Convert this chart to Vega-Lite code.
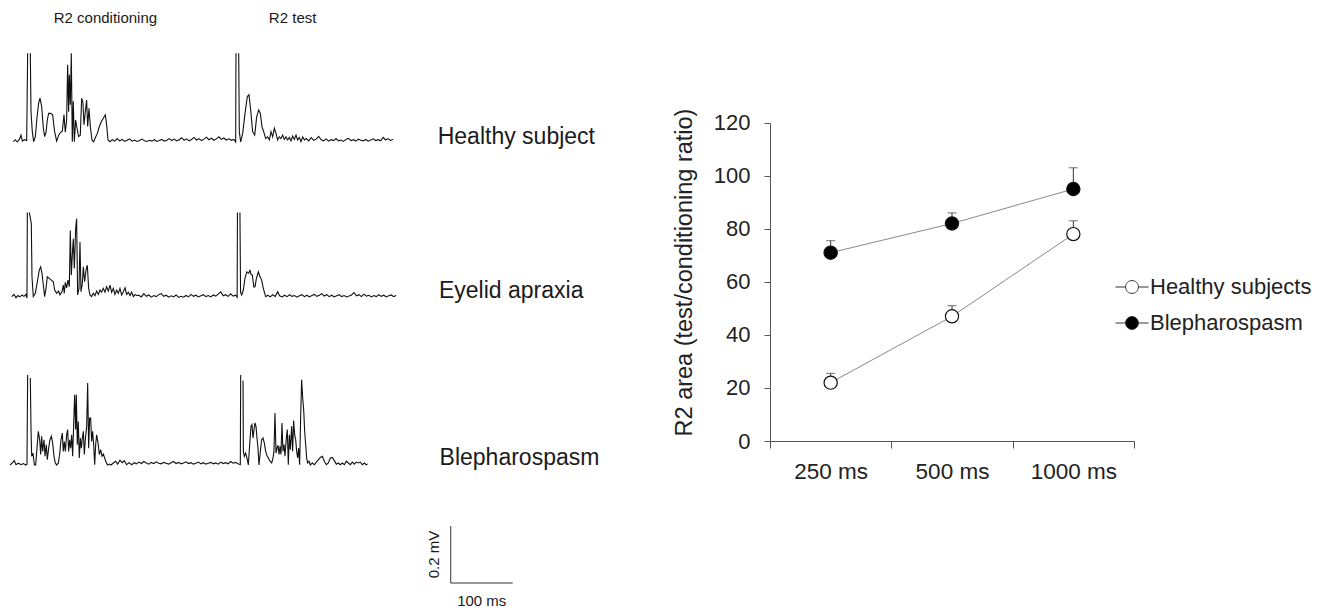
{
"$schema":"https://vega.github.io/schema/vega-lite/v6.json",
"width":1329,"height":612,"padding":0,"autosize":{"type":"none"},
"config":{"font":"Liberation Sans","view":{"stroke":null},"axis":{"grid":false},"text":{"color":"#1a1a1a"}},
"datasets":{
"emg":[
{"s":"H","t":21.5,"v":0.001},{"s":"H","t":24.7,"v":0.008},{"s":"H","t":27.9,"v":0},{"s":"H","t":31.2,"v":0.009},{"s":"H","t":33.8,"v":0.024},{"s":"H","t":36,"v":0.003},{"s":"H","t":39.2,"v":0.008},{"s":"H","t":43,"v":0.005},{"s":"H","t":44.6,"v":0.31},{"s":"H","t":46.7,"v":null},{"s":"H","t":48.9,"v":0.31},{"s":"H","t":50,"v":0.106},{"s":"H","t":52.1,"v":0.036},{"s":"H","t":54.3,"v":0.001},{"s":"H","t":57,"v":0.019},{"s":"H","t":59.6,"v":0.083},{"s":"H","t":62.3,"v":0.136},{"s":"H","t":64.5,"v":0.153},{"s":"H","t":67.2,"v":0.124},{"s":"H","t":69.9,"v":0.048},{"s":"H","t":72,"v":0.019},{"s":"H","t":74.2,"v":0.034},{"s":"H","t":76.3,"v":0.077},{"s":"H","t":78.5,"v":0.1},{"s":"H","t":81.7,"v":0.1},{"s":"H","t":84.9,"v":0.095},{"s":"H","t":88.1,"v":0.036},{"s":"H","t":91.4,"v":0.003},{"s":"H","t":94.6,"v":0.024},{"s":"H","t":97.8,"v":0.034},{"s":"H","t":100.5,"v":0.038},{"s":"H","t":103.2,"v":0.095},{"s":"H","t":105.3,"v":0.034},{"s":"H","t":107.5,"v":0.077},{"s":"H","t":109.1,"v":0.27},{"s":"H","t":110.7,"v":0.106},{"s":"H","t":111.8,"v":0.235},{"s":"H","t":113.4,"v":0.13},{"s":"H","t":115,"v":0.31},{"s":"H","t":116.6,"v":0.001},{"s":"H","t":118.2,"v":0.142},{"s":"H","t":119.9,"v":0.001},{"s":"H","t":122,"v":0.077},{"s":"H","t":124.2,"v":0.048},{"s":"H","t":126.8,"v":0.019},{"s":"H","t":129.5,"v":0.024},{"s":"H","t":131.7,"v":0.153},{"s":"H","t":133.8,"v":0.136},{"s":"H","t":135.4,"v":0.06},{"s":"H","t":137.6,"v":0.106},{"s":"H","t":139.7,"v":0.147},{"s":"H","t":141.4,"v":0.054},{"s":"H","t":143.5,"v":0.118},{"s":"H","t":145.7,"v":0.054},{"s":"H","t":148.3,"v":0.007},{"s":"H","t":151,"v":0.001},{"s":"H","t":153.7,"v":0.015},{"s":"H","t":157,"v":0.03},{"s":"H","t":160.2,"v":0.054},{"s":"H","t":163.4,"v":0.071},{"s":"H","t":166.6,"v":0.083},{"s":"H","t":169.9,"v":0.095},{"s":"H","t":172,"v":0.06},{"s":"H","t":174.2,"v":0.007},{"s":"H","t":177.4,"v":0.001},
{"s":"H","t":181,"v":0.008},{"s":"H","t":185,"v":0.003},{"s":"H","t":189,"v":0.012},{"s":"H","t":193,"v":0.004},{"s":"H","t":197,"v":0.009},{"s":"H","t":201,"v":0.002},{"s":"H","t":205,"v":0.006},{"s":"H","t":209,"v":0.011},{"s":"H","t":213,"v":0.003},{"s":"H","t":217,"v":0.007},{"s":"H","t":221,"v":0.002},{"s":"H","t":225,"v":0.005},{"s":"H","t":229,"v":0.01},{"s":"H","t":233,"v":0.004},{"s":"H","t":237,"v":0.002},{"s":"H","t":241,"v":0.006},{"s":"H","t":245,"v":0.003},{"s":"H","t":249,"v":0.008},{"s":"H","t":253,"v":0.002},{"s":"H","t":257,"v":0.005},{"s":"H","t":261,"v":0.009},{"s":"H","t":265,"v":0.003},{"s":"H","t":269,"v":0.006},{"s":"H","t":273,"v":0.012},{"s":"H","t":277,"v":0.005},{"s":"H","t":281,"v":0.01},{"s":"H","t":285,"v":0.004},{"s":"H","t":289,"v":0.008},{"s":"H","t":293,"v":0.015},{"s":"H","t":297,"v":0.006},{"s":"H","t":301,"v":0.011},{"s":"H","t":305,"v":0.004},{"s":"H","t":309,"v":0.009},{"s":"H","t":313,"v":0.016},{"s":"H","t":317,"v":0.007},{"s":"H","t":321,"v":0.012},{"s":"H","t":325,"v":0.005},{"s":"H","t":329,"v":0.01},{"s":"H","t":333,"v":0.017},{"s":"H","t":337,"v":0.008},{"s":"H","t":341,"v":0.013},{"s":"H","t":345,"v":0.006},{"s":"H","t":349,"v":0.011},{"s":"H","t":353,"v":0.018},{"s":"H","t":357,"v":0.009},{"s":"H","t":361,"v":0.014},{"s":"H","t":365,"v":0.007},{"s":"H","t":369,"v":0.011},{"s":"H","t":373,"v":0.006},{"s":"H","t":377,"v":0.009},
{"s":"H","t":380.1,"v":0},{"s":"H","t":380.6,"v":0.31},{"s":"H","t":382.8,"v":null},{"s":"H","t":385,"v":0.31},{"s":"H","t":386,"v":0.036},{"s":"H","t":388.2,"v":0},{"s":"H","t":391.4,"v":0.03},{"s":"H","t":395.2,"v":0.1},{"s":"H","t":398.9,"v":0.159},{"s":"H","t":401.6,"v":0.165},{"s":"H","t":404.3,"v":0.112},{"s":"H","t":407.5,"v":0.036},{"s":"H","t":410.8,"v":0.024},{"s":"H","t":414,"v":0.088},{"s":"H","t":417.2,"v":0.112},{"s":"H","t":419.9,"v":0.1},{"s":"H","t":422.6,"v":0.053},{"s":"H","t":425.3,"v":0.036},{"s":"H","t":428.5,"v":0.012},{"s":"H","t":431.7,"v":0.018},{"s":"H","t":434.4,"v":0.007},{"s":"H","t":437.1,"v":0.036},{"s":"H","t":439.8,"v":0.018},{"s":"H","t":442.5,"v":0.048},{"s":"H","t":445.2,"v":0.03},{"s":"H","t":447.8,"v":0.007},{"s":"H","t":450.5,"v":0.018},{"s":"H","t":453.2,"v":0.012},{"s":"H","t":455.9,"v":0.024},{"s":"H","t":458.6,"v":0.009},{"s":"H","t":461.3,"v":0.018},{"s":"H","t":464,"v":0.007},{"s":"H","t":466.7,"v":0.016},{"s":"H","t":469.4,"v":0.004},{"s":"H","t":472,"v":0.021},{"s":"H","t":474.7,"v":0.009},{"s":"H","t":477.4,"v":0.024},{"s":"H","t":480.1,"v":0.007},{"s":"H","t":482.8,"v":0.016},{"s":"H","t":485.5,"v":0.001},{"s":"H","t":488.2,"v":0.018},{"s":"H","t":490.9,"v":0.007},
{"s":"H","t":494,"v":0.012},{"s":"H","t":498,"v":0.004},{"s":"H","t":502,"v":0.015},{"s":"H","t":506,"v":0.006},{"s":"H","t":510,"v":0.01},{"s":"H","t":514,"v":0.02},{"s":"H","t":518,"v":0.008},{"s":"H","t":522,"v":0.004},{"s":"H","t":526,"v":0.011},{"s":"H","t":530,"v":0.003},{"s":"H","t":534,"v":0.008},{"s":"H","t":538,"v":0.005},{"s":"H","t":542,"v":0.012},{"s":"H","t":546,"v":0.004},{"s":"H","t":550,"v":0.007},{"s":"H","t":554,"v":0.002},{"s":"H","t":558,"v":0.009},{"s":"H","t":562,"v":0.013},{"s":"H","t":566,"v":0.005},{"s":"H","t":570,"v":0.008},{"s":"H","t":574,"v":0.003},{"s":"H","t":578,"v":0.01},{"s":"H","t":582,"v":0.006},{"s":"H","t":586,"v":0.004},{"s":"H","t":590,"v":0.009},{"s":"H","t":594,"v":0.003},{"s":"H","t":598,"v":0.007},{"s":"H","t":602,"v":0.011},{"s":"H","t":606,"v":0.005},{"s":"H","t":610,"v":0.008},{"s":"H","t":614,"v":0.004},{"s":"H","t":618,"v":0.016},{"s":"H","t":622,"v":0.007},{"s":"H","t":626,"v":0.012},{"s":"H","t":630,"v":0.005},{"s":"H","t":634,"v":0.01},

{"s":"E","t":18.8,"v":0.005},{"s":"E","t":22.6,"v":0.013},{"s":"E","t":25.8,"v":0.001},{"s":"E","t":29,"v":0.009},{"s":"E","t":32.2,"v":0.004},{"s":"E","t":35.5,"v":0.011},{"s":"E","t":38.7,"v":0.006},{"s":"E","t":41.9,"v":0.013},{"s":"E","t":43.5,"v":0},{"s":"E","t":44.1,"v":0.31},{"s":"E","t":45.5,"v":null},{"s":"E","t":47.3,"v":0.31},{"s":"E","t":50.5,"v":0.27},{"s":"E","t":51.6,"v":0.077},{"s":"E","t":53.7,"v":0.005},{"s":"E","t":57,"v":0.017},{"s":"E","t":60.2,"v":0.059},{"s":"E","t":63.4,"v":0.101},{"s":"E","t":65.6,"v":0.113},{"s":"E","t":67.7,"v":0.089},{"s":"E","t":69.9,"v":0.047},{"s":"E","t":72,"v":0.005},{"s":"E","t":74.2,"v":0.035},{"s":"E","t":76.3,"v":0.077},{"s":"E","t":79.5,"v":0.071},{"s":"E","t":82.8,"v":0.065},{"s":"E","t":86,"v":0.059},{"s":"E","t":88.1,"v":0.029},{"s":"E","t":91.4,"v":0.017},{"s":"E","t":94.6,"v":0.025},{"s":"E","t":96.7,"v":0.011},{"s":"E","t":100,"v":0.023},{"s":"E","t":102.1,"v":0.047},{"s":"E","t":103.7,"v":0.017},{"s":"E","t":105.3,"v":0.057},{"s":"E","t":107.5,"v":0.037},{"s":"E","t":109.6,"v":0.065},{"s":"E","t":111.8,"v":0.041},{"s":"E","t":113.4,"v":0.245},{"s":"E","t":115,"v":0.083},{"s":"E","t":116.6,"v":0.155},{"s":"E","t":118.2,"v":0.215},{"s":"E","t":119.9,"v":0.107},{"s":"E","t":122,"v":0.251},{"s":"E","t":123.6,"v":0.287},{"s":"E","t":125.2,"v":0.011},{"s":"E","t":127.4,"v":0.035},{"s":"E","t":129,"v":0.203},{"s":"E","t":130.6,"v":0.023},{"s":"E","t":132.8,"v":0.053},{"s":"E","t":134.4,"v":0.113},{"s":"E","t":136.5,"v":0.059},{"s":"E","t":138.7,"v":0.101},{"s":"E","t":140.8,"v":0.119},{"s":"E","t":143,"v":0.035},{"s":"E","t":145.1,"v":0.011},{"s":"E","t":147.8,"v":0.005},{"s":"E","t":150.5,"v":0.017},{"s":"E","t":153.2,"v":0.009},{"s":"E","t":155.9,"v":0.025},{"s":"E","t":158.6,"v":0.013},{"s":"E","t":161.3,"v":0.029},{"s":"E","t":163.9,"v":0.021},{"s":"E","t":166.6,"v":0.035},{"s":"E","t":169.3,"v":0.021},{"s":"E","t":172,"v":0.041},{"s":"E","t":174.7,"v":0.025},{"s":"E","t":177.4,"v":0.047},{"s":"E","t":180.1,"v":0.021},{"s":"E","t":182.8,"v":0.035},{"s":"E","t":185.4,"v":0.013},{"s":"E","t":188.1,"v":0.029},{"s":"E","t":190.8,"v":0.017},{"s":"E","t":193.5,"v":0.035},{"s":"E","t":196.2,"v":0.011},{"s":"E","t":198.9,"v":0.023},{"s":"E","t":201.6,"v":0.037},{"s":"E","t":204.3,"v":0.013},{"s":"E","t":207,"v":0.021},{"s":"E","t":209.6,"v":0.009},{"s":"E","t":212.3,"v":0.021},{"s":"E","t":215,"v":0.005},{"s":"E","t":217.7,"v":0.013},{"s":"E","t":220.4,"v":0.009},
{"s":"E","t":224,"v":0.01},{"s":"E","t":228,"v":0.004},{"s":"E","t":232,"v":0.016},{"s":"E","t":236,"v":0.006},{"s":"E","t":240,"v":0.011},{"s":"E","t":244,"v":0.003},{"s":"E","t":248,"v":0.009},{"s":"E","t":252,"v":0.005},{"s":"E","t":256,"v":0.012},{"s":"E","t":260,"v":0.016},{"s":"E","t":264,"v":0.006},{"s":"E","t":268,"v":0.01},{"s":"E","t":272,"v":0.003},{"s":"E","t":276,"v":0.008},{"s":"E","t":280,"v":0.004},{"s":"E","t":284,"v":0.011},{"s":"E","t":288,"v":0.002},{"s":"E","t":292,"v":0.006},{"s":"E","t":296,"v":0.003},{"s":"E","t":300,"v":0.009},{"s":"E","t":304,"v":0.004},{"s":"E","t":308,"v":0.013},{"s":"E","t":312,"v":0.006},{"s":"E","t":316,"v":0.01},{"s":"E","t":320,"v":0.004},{"s":"E","t":324,"v":0.008},{"s":"E","t":328,"v":0.012},{"s":"E","t":332,"v":0.005},{"s":"E","t":336,"v":0.009},{"s":"E","t":340,"v":0.004},{"s":"E","t":344,"v":0.011},{"s":"E","t":348,"v":0.007},{"s":"E","t":352,"v":0.014},{"s":"E","t":356,"v":0.022},{"s":"E","t":360,"v":0.008},{"s":"E","t":364,"v":0.012},{"s":"E","t":368,"v":0.006},{"s":"E","t":372,"v":0.015},{"s":"E","t":376,"v":0.007},{"s":"E","t":380,"v":0.01},
{"s":"E","t":382.5,"v":0.003},{"s":"E","t":383,"v":0.31},{"s":"E","t":385,"v":null},{"s":"E","t":387,"v":0.31},{"s":"E","t":388,"v":0.02},{"s":"E","t":389.8,"v":0.011},{"s":"E","t":392.5,"v":0.029},{"s":"E","t":395,"v":0.07},{"s":"E","t":398,"v":0.095},{"s":"E","t":401,"v":0.09},{"s":"E","t":403.2,"v":0.1},{"s":"E","t":405,"v":0.085},{"s":"E","t":407,"v":0.083},{"s":"E","t":409.5,"v":0.04},{"s":"E","t":411.3,"v":0.041},{"s":"E","t":413.5,"v":0.07},{"s":"E","t":416.7,"v":0.095},{"s":"E","t":419,"v":0.08},{"s":"E","t":422,"v":0.065},{"s":"E","t":424.7,"v":0.035},{"s":"E","t":428.5,"v":0.005},{"s":"E","t":432,"v":0.01},{"s":"E","t":436,"v":0.004},{"s":"E","t":440,"v":0.012},{"s":"E","t":444,"v":0.006},{"s":"E","t":447.8,"v":0.023},{"s":"E","t":451,"v":0.008},{"s":"E","t":455,"v":0.004},{"s":"E","t":459,"v":0.01},
{"s":"E","t":463,"v":0.005},{"s":"E","t":467,"v":0.012},{"s":"E","t":471,"v":0.006},{"s":"E","t":475,"v":0.009},{"s":"E","t":479,"v":0.003},{"s":"E","t":483,"v":0.008},{"s":"E","t":487,"v":0.012},{"s":"E","t":491,"v":0.005},{"s":"E","t":495,"v":0.01},{"s":"E","t":499,"v":0.004},{"s":"E","t":503,"v":0.009},{"s":"E","t":507,"v":0.013},{"s":"E","t":511,"v":0.006},{"s":"E","t":515,"v":0.01},{"s":"E","t":519,"v":0.016},{"s":"E","t":523,"v":0.007},{"s":"E","t":527,"v":0.012},{"s":"E","t":531,"v":0.005},{"s":"E","t":535,"v":0.01},{"s":"E","t":539,"v":0.004},{"s":"E","t":543,"v":0.008},{"s":"E","t":547,"v":0.012},{"s":"E","t":551,"v":0.005},{"s":"E","t":555,"v":0.009},{"s":"E","t":559,"v":0.004},{"s":"E","t":563,"v":0.007},{"s":"E","t":567,"v":0.011},{"s":"E","t":571,"v":0.02},{"s":"E","t":575,"v":0.008},{"s":"E","t":579,"v":0.012},{"s":"E","t":583,"v":0.005},{"s":"E","t":587,"v":0.014},{"s":"E","t":591,"v":0.007},{"s":"E","t":595,"v":0.01},{"s":"E","t":599,"v":0.004},{"s":"E","t":603,"v":0.009},{"s":"E","t":607,"v":0.005},{"s":"E","t":611,"v":0.012},{"s":"E","t":615,"v":0.006},{"s":"E","t":619,"v":0.01},{"s":"E","t":623,"v":0.004},{"s":"E","t":627,"v":0.008},{"s":"E","t":631,"v":0.011},{"s":"E","t":635,"v":0.005},{"s":"E","t":639,"v":0.009},

{"s":"B","t":16.1,"v":0},{"s":"B","t":19.9,"v":0.007},{"s":"B","t":23.1,"v":0.015},{"s":"B","t":25.8,"v":0.001},{"s":"B","t":29.6,"v":0.006},{"s":"B","t":33.9,"v":0.001},{"s":"B","t":37.6,"v":0.005},{"s":"B","t":41.4,"v":0},{"s":"B","t":43.5,"v":0.003},{"s":"B","t":44.6,"v":0.31},{"s":"B","t":46.5,"v":null},{"s":"B","t":48.9,"v":0.3},{"s":"B","t":50,"v":0.127},{"s":"B","t":51.1,"v":0.03},{"s":"B","t":53.2,"v":0.041},{"s":"B","t":55.4,"v":0.001},{"s":"B","t":57.5,"v":0},{"s":"B","t":59.7,"v":0.058},{"s":"B","t":61.8,"v":0.116},{"s":"B","t":64,"v":0.087},{"s":"B","t":65.6,"v":0.036},{"s":"B","t":67.2,"v":0.099},{"s":"B","t":68.8,"v":0.047},{"s":"B","t":71,"v":0.087},{"s":"B","t":72.6,"v":0.03},{"s":"B","t":74.7,"v":0.07},{"s":"B","t":76.3,"v":0.018},{"s":"B","t":78.5,"v":0.058},{"s":"B","t":80.6,"v":0.087},{"s":"B","t":82.8,"v":0.099},{"s":"B","t":84.9,"v":0.076},{"s":"B","t":87.1,"v":0.03},{"s":"B","t":89.2,"v":0.007},{"s":"B","t":91.4,"v":0},{"s":"B","t":94.1,"v":0.007},{"s":"B","t":96.2,"v":0.036},{"s":"B","t":98.4,"v":0.087},{"s":"B","t":100.5,"v":0.11},{"s":"B","t":102.1,"v":0.047},{"s":"B","t":103.8,"v":0.081},{"s":"B","t":105.4,"v":0.047},{"s":"B","t":107.5,"v":0.104},{"s":"B","t":109.1,"v":0.122},{"s":"B","t":110.7,"v":0.047},{"s":"B","t":112.4,"v":0.087},{"s":"B","t":114,"v":0.058},{"s":"B","t":115.6,"v":0.104},{"s":"B","t":117.2,"v":0.03},{"s":"B","t":118.8,"v":0.139},{"s":"B","t":120.4,"v":0.242},{"s":"B","t":122,"v":0.122},{"s":"B","t":123.1,"v":0.242},{"s":"B","t":124.7,"v":0.07},{"s":"B","t":126.3,"v":0.15},{"s":"B","t":127.9,"v":0.024},{"s":"B","t":129.6,"v":0.093},{"s":"B","t":131.2,"v":0.058},{"s":"B","t":132.8,"v":0.093},{"s":"B","t":134.4,"v":0.116},{"s":"B","t":136,"v":0.036},{"s":"B","t":137.6,"v":0.087},{"s":"B","t":139.8,"v":0.133},{"s":"B","t":141.4,"v":0.282},{"s":"B","t":143,"v":0.058},{"s":"B","t":144.6,"v":0.162},{"s":"B","t":146.2,"v":0.162},{"s":"B","t":147.8,"v":0.081},{"s":"B","t":149.4,"v":0.116},{"s":"B","t":151.1,"v":0.07},{"s":"B","t":152.7,"v":0.001},{"s":"B","t":154.3,"v":0.07},{"s":"B","t":155.9,"v":0.104},{"s":"B","t":158.1,"v":0.076},{"s":"B","t":160.2,"v":0.036},{"s":"B","t":162.4,"v":0.053},{"s":"B","t":164.5,"v":0.03},{"s":"B","t":166.7,"v":0.038},{"s":"B","t":168.8,"v":0.024},{"s":"B","t":171,"v":0.01},{"s":"B","t":173.6,"v":0},{"s":"B","t":176.3,"v":0.003},{"s":"B","t":179,"v":0},{"s":"B","t":182.8,"v":0.007},{"s":"B","t":186.5,"v":0.013},{"s":"B","t":189.8,"v":0.003},{"s":"B","t":193.5,"v":0.017},{"s":"B","t":197.3,"v":0.008},{"s":"B","t":200.5,"v":0.015},{"s":"B","t":204.3,"v":0.001},{"s":"B","t":208.1,"v":0.008},{"s":"B","t":212.4,"v":0.001},{"s":"B","t":216.7,"v":0.008},
{"s":"B","t":220,"v":0.004},{"s":"B","t":224,"v":0.01},{"s":"B","t":228,"v":0.005},{"s":"B","t":232,"v":0.012},{"s":"B","t":236,"v":0.007},{"s":"B","t":240,"v":0.003},{"s":"B","t":244,"v":0.009},{"s":"B","t":248,"v":0.005},{"s":"B","t":252,"v":0.011},{"s":"B","t":256,"v":0.006},{"s":"B","t":260,"v":0.004},{"s":"B","t":264,"v":0.009},{"s":"B","t":268,"v":0.006},{"s":"B","t":272,"v":0.003},{"s":"B","t":276,"v":0.008},{"s":"B","t":280,"v":0.012},{"s":"B","t":284,"v":0.005},{"s":"B","t":288,"v":0.009},{"s":"B","t":292,"v":0.004},{"s":"B","t":296,"v":0.007},{"s":"B","t":300,"v":0.011},{"s":"B","t":304,"v":0.005},{"s":"B","t":308,"v":0.008},{"s":"B","t":312,"v":0.003},{"s":"B","t":316,"v":0.006},{"s":"B","t":320,"v":0.01},{"s":"B","t":324,"v":0.004},{"s":"B","t":328,"v":0.008},{"s":"B","t":332,"v":0.003},{"s":"B","t":336,"v":0.006},{"s":"B","t":340,"v":0.009},{"s":"B","t":344,"v":0.004},{"s":"B","t":348,"v":0.007},{"s":"B","t":352,"v":0.003},{"s":"B","t":356,"v":0.01},{"s":"B","t":360,"v":0.005},{"s":"B","t":364,"v":0.008},{"s":"B","t":368,"v":0.004},{"s":"B","t":372,"v":0.012},{"s":"B","t":376,"v":0.006},{"s":"B","t":380,"v":0.009},{"s":"B","t":384,"v":0.004},
{"s":"B","t":387.6,"v":0.001},{"s":"B","t":388.2,"v":0.31},{"s":"B","t":390,"v":null},{"s":"B","t":392,"v":0.29},{"s":"B","t":392.5,"v":0.047},{"s":"B","t":394.1,"v":0.03},{"s":"B","t":396.2,"v":0.041},{"s":"B","t":398.4,"v":0.024},{"s":"B","t":400.5,"v":0},{"s":"B","t":402.7,"v":0.07},{"s":"B","t":404.8,"v":0.133},{"s":"B","t":406.4,"v":0.139},{"s":"B","t":408.1,"v":0.093},{"s":"B","t":409.7,"v":0.122},{"s":"B","t":411.3,"v":0.145},{"s":"B","t":412.9,"v":0.133},{"s":"B","t":414.5,"v":0.093},{"s":"B","t":416.1,"v":0.058},{"s":"B","t":417.7,"v":0},{"s":"B","t":419.9,"v":0.047},{"s":"B","t":422,"v":0.087},{"s":"B","t":424.2,"v":0.093},{"s":"B","t":426.3,"v":0.076},{"s":"B","t":428.5,"v":0.047},{"s":"B","t":430.6,"v":0.033},{"s":"B","t":432.8,"v":0.024},{"s":"B","t":435.5,"v":0.013},{"s":"B","t":438.2,"v":0.007},{"s":"B","t":440.3,"v":0.024},{"s":"B","t":441.9,"v":0.047},{"s":"B","t":443.5,"v":0.179},{"s":"B","t":445.2,"v":0.041},{"s":"B","t":446.8,"v":0.058},{"s":"B","t":448.4,"v":0.068},{"s":"B","t":450,"v":0.036},{"s":"B","t":451.6,"v":0.064},{"s":"B","t":453.2,"v":0.036},{"s":"B","t":454.8,"v":0.145},{"s":"B","t":456.4,"v":0.047},{"s":"B","t":458.1,"v":0.07},{"s":"B","t":459.7,"v":0.03},{"s":"B","t":461.8,"v":0.093},{"s":"B","t":463.4,"v":0.122},{"s":"B","t":465,"v":0.001},{"s":"B","t":466.7,"v":0.104},{"s":"B","t":468.3,"v":0.053},{"s":"B","t":470.4,"v":0.133},{"s":"B","t":472,"v":0.047},{"s":"B","t":473.6,"v":0.153},{"s":"B","t":475.3,"v":0.104},{"s":"B","t":476.9,"v":0.087},{"s":"B","t":478.5,"v":0.047},{"s":"B","t":480.1,"v":0.024},{"s":"B","t":481.7,"v":0.058},{"s":"B","t":483.3,"v":0.001},{"s":"B","t":484.9,"v":0.162},{"s":"B","t":486.5,"v":0.294},{"s":"B","t":488.2,"v":0.231},{"s":"B","t":489.8,"v":0.19},{"s":"B","t":491.4,"v":0.116},{"s":"B","t":493,"v":0.07},{"s":"B","t":494.6,"v":0.024},{"s":"B","t":496.2,"v":0.007},{"s":"B","t":498.4,"v":0.013},{"s":"B","t":500.5,"v":0},{"s":"B","t":503.8,"v":0.007},{"s":"B","t":507,"v":0.001},{"s":"B","t":510.2,"v":0.01},{"s":"B","t":513.4,"v":0.018},{"s":"B","t":516.7,"v":0.026},{"s":"B","t":519.9,"v":0.03},{"s":"B","t":523.1,"v":0.013},{"s":"B","t":526.3,"v":0.001},{"s":"B","t":529.6,"v":0.007},{"s":"B","t":532.8,"v":0.024},{"s":"B","t":536,"v":0.026},{"s":"B","t":539.2,"v":0.015},{"s":"B","t":542.5,"v":0.003},{"s":"B","t":545.7,"v":0.007},{"s":"B","t":548.9,"v":0.001},{"s":"B","t":552.1,"v":0.007},{"s":"B","t":555.4,"v":0.001},{"s":"B","t":558.6,"v":0.013},{"s":"B","t":561.8,"v":0.007},{"s":"B","t":565,"v":0.001},{"s":"B","t":568.3,"v":0.01},{"s":"B","t":571.5,"v":0.003},{"s":"B","t":574.7,"v":0.01},{"s":"B","t":577.9,"v":0.007},{"s":"B","t":581.2,"v":0.01},{"s":"B","t":584.4,"v":0.001},{"s":"B","t":587.6,"v":0.007},{"s":"B","t":590.8,"v":0.001},{"s":"B","t":593,"v":0.004}
],
"names":[
{"s":"H","text":"Healthy subject","t":706,"v":-0.007},
{"s":"E","text":"Eyelid apraxia","t":708,"v":0},
{"s":"B","text":"Blepharospasm","t":709,"v":0}
],
"headers":[
{"text":"R2 conditioning","t":170,"v":0.415},
{"text":"R2 test","t":472,"v":0.415}
],
"bars":[
{"t":727,"t2":727,"v":0,"v2":0.2},
{"t":727,"t2":827,"v":0,"v2":0}
],
"barlabels":[
{"text":"0.2 mV","t":708,"v":0.1,"dir":"vertical"},
{"text":"100 ms","t":777,"v":-0.08,"dir":"horizontal"}
],
"ratio":[
{"interval":"250 ms","group":"Healthy subjects","mean":22,"upper":25.5},
{"interval":"500 ms","group":"Healthy subjects","mean":47,"upper":51},
{"interval":"1000 ms","group":"Healthy subjects","mean":78,"upper":83},
{"interval":"250 ms","group":"Blepharospasm","mean":71,"upper":75.5},
{"interval":"500 ms","group":"Blepharospasm","mean":82,"upper":86},
{"interval":"1000 ms","group":"Blepharospasm","mean":95,"upper":103}
]
},
"layer":[
{"layer":[
 {"data":{"name":"emg"},"transform":[{"filter":"datum.s === 'H'"}],
  "mark":{"type":"line","color":"#111","strokeWidth":1.1,"invalid":"break-paths-show-domains"},
  "encoding":{"x":{"field":"t","type":"quantitative","scale":{"domain":[0,1000],"range":[0,620],"nice":false,"zero":false},"axis":null},
   "y":{"field":"v","type":"quantitative","scale":{"domain":[0,0.31],"range":[142,53.3],"nice":false,"zero":false},"axis":null}}},
 {"data":{"name":"names"},"transform":[{"filter":"datum.s === 'H'"}],
  "mark":{"type":"text","align":"left","baseline":"alphabetic","fontSize":23},
  "encoding":{"x":{"field":"t","type":"quantitative"},"y":{"field":"v","type":"quantitative"},"text":{"field":"text"}}},
 {"data":{"name":"headers"},
  "mark":{"type":"text","align":"center","baseline":"alphabetic","fontSize":15},
  "encoding":{"x":{"field":"t","type":"quantitative"},"y":{"field":"v","type":"quantitative"},"text":{"field":"text"}}}
]},
{"layer":[
 {"data":{"name":"emg"},"transform":[{"filter":"datum.s === 'E'"}],
  "mark":{"type":"line","color":"#111","strokeWidth":1.1,"invalid":"break-paths-show-domains"},
  "encoding":{"x":{"field":"t","type":"quantitative","scale":{"domain":[0,1000],"range":[0,620],"nice":false,"zero":false},"axis":null},
   "y":{"field":"v","type":"quantitative","scale":{"domain":[0,0.31],"range":[298,212.5],"nice":false,"zero":false},"axis":null}}},
 {"data":{"name":"names"},"transform":[{"filter":"datum.s === 'E'"}],
  "mark":{"type":"text","align":"left","baseline":"alphabetic","fontSize":23},
  "encoding":{"x":{"field":"t","type":"quantitative"},"y":{"field":"v","type":"quantitative"},"text":{"field":"text"}}}
]},
{"layer":[
 {"data":{"name":"emg"},"transform":[{"filter":"datum.s === 'B'"}],
  "mark":{"type":"line","color":"#111","strokeWidth":1.1,"invalid":"break-paths-show-domains"},
  "encoding":{"x":{"field":"t","type":"quantitative","scale":{"domain":[0,1000],"range":[0,620],"nice":false,"zero":false},"axis":null},
   "y":{"field":"v","type":"quantitative","scale":{"domain":[0,0.31],"range":[465,375],"nice":false,"zero":false},"axis":null}}},
 {"data":{"name":"names"},"transform":[{"filter":"datum.s === 'B'"}],
  "mark":{"type":"text","align":"left","baseline":"alphabetic","fontSize":23},
  "encoding":{"x":{"field":"t","type":"quantitative"},"y":{"field":"v","type":"quantitative"},"text":{"field":"text"}}}
]},
{"layer":[
 {"data":{"name":"bars"},
  "mark":{"type":"rule","color":"#333","strokeWidth":1},
  "encoding":{"x":{"field":"t","type":"quantitative","scale":{"domain":[0,1000],"range":[0,620],"nice":false,"zero":false},"axis":null},"x2":{"field":"t2"},
   "y":{"field":"v","type":"quantitative","scale":{"domain":[0,0.2],"range":[583,526],"nice":false,"zero":false},"axis":null},"y2":{"field":"v2"}}},
 {"data":{"name":"barlabels"},"transform":[{"filter":"datum.dir === 'vertical'"}],
  "mark":{"type":"text","align":"center","baseline":"alphabetic","angle":270,"fontSize":15},
  "encoding":{"x":{"field":"t","type":"quantitative"},"y":{"field":"v","type":"quantitative"},"text":{"field":"text"}}},
 {"data":{"name":"barlabels"},"transform":[{"filter":"datum.dir === 'horizontal'"}],
  "mark":{"type":"text","align":"center","baseline":"alphabetic","fontSize":15},
  "encoding":{"x":{"field":"t","type":"quantitative"},"y":{"field":"v","type":"quantitative"},"text":{"field":"text"}}}
]},
{"data":{"name":"ratio"},
 "encoding":{
  "x":{"field":"interval","type":"ordinal","sort":["250 ms","500 ms","1000 ms"],
   "scale":{"type":"band","domain":["250 ms","500 ms","1000 ms"],"range":[770,1134],"paddingInner":0,"paddingOuter":0},
   "axis":{"orient":"bottom","offset":-171,"title":null,"tickBand":"extent","tickSize":7,"labelPadding":12,"labelFontSize":22.5,"labelAngle":0,"labelColor":"#222","domainColor":"#555","tickColor":"#555"}},
  "y":{"field":"mean","type":"quantitative",
   "scale":{"domain":[0,120],"range":[441,122.7],"nice":false,"zero":false},
   "axis":{"orient":"left","offset":-770,"values":[0,20,40,60,80,100,120],"tickSize":6,"labelPadding":14,"labelFontSize":22,"labelColor":"#222","domainColor":"#555","tickColor":"#555",
    "title":"R2 area (test/conditioning ratio)","titleFontSize":23.5,"titleFontWeight":"normal","titleColor":"#222","titleX":-74,"titleY":272,"titleAngle":270,"titleAlign":"center","titleBaseline":"bottom"}}
 },
 "layer":[
  {"mark":{"type":"line","color":"#8a8a8a","strokeWidth":1},"encoding":{"detail":{"field":"group"}}},
  {"mark":{"type":"rule","color":"#333","strokeWidth":1},"encoding":{"y2":{"field":"upper"}}},
  {"mark":{"type":"tick","color":"#333","thickness":1,"size":9},"encoding":{"y":{"field":"upper","type":"quantitative"}}},
  {"mark":{"type":"point","shape":"circle","filled":true,"stroke":"#111","strokeWidth":1.2,"size":175,"opacity":1},
   "encoding":{"fill":{"field":"group","type":"nominal","scale":{"domain":["Healthy subjects","Blepharospasm"],"range":["white","black"]},
    "legend":{"orient":"none","legendX":1115,"legendY":270,"title":null,"labelFontSize":22,"labelColor":"#222","labelOffset":1,"labelLimit":0,"padding":0,"rowPadding":8,
     "symbolType":"M-1,0L-0.39,0M0.39,0L1,0M0.39,0A0.39,0.39,0,1,1,-0.39,0A0.39,0.39,0,1,1,0.39,0Z",
     "symbolSize":1089,"symbolStrokeColor":"#333","symbolStrokeWidth":1,"symbolOpacity":1}}}}
 ]}
],
"resolve":{"scale":{"x":"independent","y":"independent"}}
}
